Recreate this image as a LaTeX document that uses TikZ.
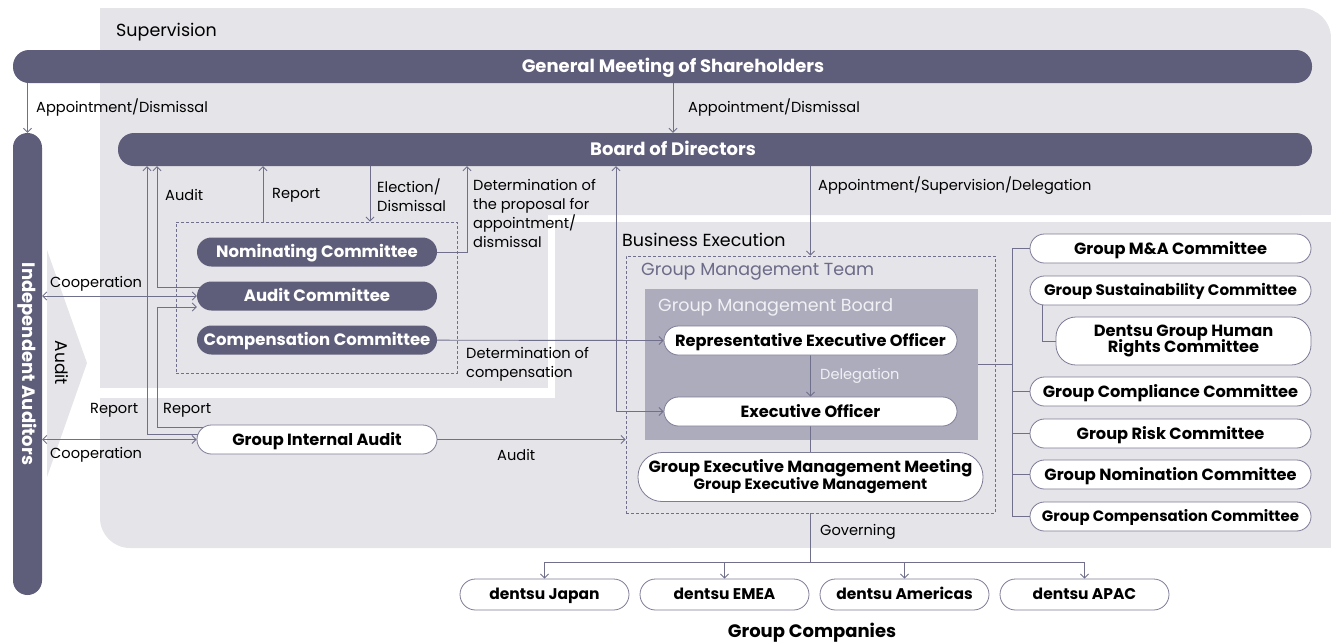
\documentclass[tikz,border=0pt]{standalone}
\usepackage{fontspec}
\setmainfont{Poppins}
\usetikzlibrary{arrows.meta}
\pgfdeclarelayer{panels}
\pgfdeclarelayer{wires}
\pgfsetlayers{panels,wires,main}
\definecolor{barc}{RGB}{95,94,122}
\definecolor{panelc}{RGB}{229,228,233}
\definecolor{wirec}{RGB}{112,111,140}
\definecolor{gmbc}{RGB}{173,172,188}
\definecolor{gmtc}{RGB}{107,106,136}
\definecolor{boxc}{RGB}{125,124,150}
\definecolor{paletxt}{RGB}{240,240,245}
\tikzset{
 lbl/.style={font=\fontsize{14.6}{19}\selectfont, anchor=west, inner sep=0pt, align=left},
 ttl/.style={font=\fontsize{17.5}{20}\selectfont, anchor=west, inner sep=0pt},
 onel/.style={text height=#1, text depth=0pt},
 darkbar/.style={fill=barc, text=white, font=\bfseries\fontsize{18}{20}\selectfont, inner sep=0pt, rounded corners=16pt, minimum height=33pt, onel=12.6pt},
 dcomm/.style={fill=barc, text=white, font=\bfseries\fontsize{16.5}{19}\selectfont, inner sep=0pt, rounded corners=14.5pt, minimum height=29pt, minimum width=240pt, onel=11.6pt},
 wbox/.style={draw=boxc, line width=0.8pt, fill=white, text=black, font=\bfseries\fontsize{16.2}{18}\selectfont, inner sep=0pt, rounded corners=14.5pt, minimum height=29pt},
 dashbox/.style={draw=wirec, dash pattern=on 3pt off 2pt, line width=0.8pt, inner sep=0pt},
 wire/.style={draw=wirec, line width=0.9pt},
 arr/.style={wire, -{Straight Barb[length=4pt,width=8pt]}},
 arrr/.style={wire, {Straight Barb[length=4pt,width=8pt]}-{Straight Barb[length=4pt,width=8pt]}},
}
\begin{document}
\begin{tikzpicture}[x=1pt,y=-1pt]
\useasboundingbox (0,0) rectangle (1331,641);
\begin{pgfonlayer}{panels}
 % supervision panel
 \fill[panelc, rounded corners=30pt] (100,8) rectangle (1331,215);
 \fill[panelc] (100,8) rectangle (1280,215);
 \fill[panelc] (100,60) rectangle (1331,215);
 \fill[panelc] (100,8) rectangle (548,388);
 % business execution panel
 \fill[panelc, rounded corners=30pt] (100,398) rectangle (700,548);
 \fill[panelc] (100,398) rectangle (700,500);
 \fill[panelc] (150,398) rectangle (700,548);
 \fill[panelc] (555,222) rectangle (1331,548);
 % audit chevron
 \fill[panelc] (47,250) -- (87,363) -- (47,477) -- cycle;
 \node[fill=gmbc, minimum width=333pt, minimum height=151pt, inner sep=0pt] (gmb) at (811.5,364.5) {};
 \node[dashbox, minimum width=281pt, minimum height=151pt] (cbox) at (316.5,297.5) {};
 \node[dashbox, minimum width=369pt, minimum height=257pt] (gmt) at (810.5,384.5) {};
\end{pgfonlayer}

% main bars
\node[darkbar, minimum width=1299pt] (gm) at (662.5,66.5) {\hspace*{21pt}General Meeting of Shareholders};
\node[darkbar, minimum width=1194pt] (bod) at (715,149.5) {Board of Directors\hspace*{84pt}};
\node[fill=barc, rounded corners=14.5pt, minimum width=29pt, minimum height=462pt, inner sep=0pt, text=white, font=\bfseries\fontsize{18}{20}\selectfont] (ia) at (27.5,364) {\rotatebox{-90}{Independent Auditors}};

% committees
\node[dcomm] (nom) at (317,252) {Nominating Committee};
\node[dcomm] (aud) at (317,296) {Audit Committee};
\node[dcomm] (comp) at (317,340) {Compensation Committee};
\node[wbox, onel=11.3pt, minimum width=240pt] (gia) at (317,439.5) {Group Internal Audit};

% execution
\node[wbox, onel=11.3pt, minimum width=293pt] (reo) at (810.5,340.5) {Representative Executive Officer};
\node[wbox, onel=11.3pt, minimum width=293pt] (eo) at (810.5,411.5) {Executive Officer};
\node[wbox, minimum width=345pt, minimum height=49pt, rounded corners=24pt, align=center] (gemm) at (810.5,477) {Group Executive Management Meeting\\[-1pt]{\fontsize{15}{16}\selectfont Group Executive Management}};

% right committees
\node[wbox, onel=11.3pt, minimum width=281pt] (ma) at (1170.5,248.5) {Group M\&A Committee};
\node[wbox, onel=10.6pt, minimum width=281pt, font=\bfseries\fontsize{15.2}{18}\selectfont] (sus) at (1170.5,290.5) {Group Sustainability Committee};
\node[wbox, minimum width=255pt, minimum height=48pt, rounded corners=20pt, align=center] (hr) at (1183.5,341) {Dentsu Group Human\\[-2pt]Rights Committee};
\node[wbox, onel=11.3pt, minimum width=281pt] (compl) at (1170.5,391.5) {Group Compliance Committee};
\node[wbox, onel=11.3pt, minimum width=281pt] (risk) at (1170.5,433.5) {Group Risk Committee};
\node[wbox, onel=11.3pt, minimum width=281pt] (gnom) at (1170.5,474.5) {Group Nomination Committee};
\node[wbox, onel=10.5pt, minimum width=281pt, font=\bfseries\fontsize{15}{18}\selectfont] (gcomp) at (1170.5,516.5) {Group Compensation Committee};

% companies
\tikzset{co/.style={wbox, onel=10.9pt, minimum width=169pt, minimum height=31pt, rounded corners=15.5pt, font=\bfseries\fontsize{15.5}{18}\selectfont}}
\node[co] (japan) at (544.5,594.5) {dentsu Japan};
\node[co] (emea) at (724.5,594.5) {dentsu EMEA};
\node[co] (amer) at (904.5,594.5) {dentsu Americas};
\node[co] (apac) at (1084.5,594.5) {dentsu APAC};
\node[font=\bfseries\fontsize{18}{20}\selectfont, inner sep=0pt, onel=12.6pt] (gc) at (812,631) {Group Companies};

\coordinate (gov) at (810.5,562);
\coordinate (bustop) at (1012,248.5);
\coordinate (busbot) at (1012,516.5);

\begin{pgfonlayer}{wires}
 \draw[arr] (gm.south -| ia.north) -- (ia.north);
 \draw[arr] ([xshift=10.5pt]gm.south) -- ([xshift=-42pt]bod.north);
 \draw[arr] ([yshift=9pt]aud.center) -| ([xshift=-558pt]bod.south);
 \draw[arr] ([yshift=5pt]gia.center) -| ([xshift=-568pt]bod.south);
 \draw[arr] ([yshift=12pt]gia.center) -| ([xshift=-160pt,yshift=-11pt]aud.center) -- ([yshift=-11pt]aud.west);
 \draw[arrr] (ia.east |- aud.west) -- (aud.west);
 \draw[arrr] (ia.east |- gia.west) -- (gia.west);
 \draw[arr] ([xshift=-53.5pt]cbox.north) -- ([xshift=-452pt]bod.south);
 \draw[arr] ([xshift=-345pt]bod.south) -- ([xshift=53.5pt]cbox.north);
 \draw[arr] (nom.center) -| ([xshift=-248pt]bod.south);
 \draw[arr] (comp.center) -- (reo.west);
 \draw[arrr] ([xshift=-99pt]bod.south) |- (eo.west);
 \draw[arr] (gia.center) -- (gia.center -| gmt.west);
 \draw[arr] (bod.south -| gmt.north) -- (gmt.north);
 \draw[arr] (reo.south) -- (eo.north);
 \draw[wire] (eo.south) -- (gemm.north);
 \draw[wire] (gmt.south) -- (gov);
 \draw[arr] (gov) -| (japan.north);
 \draw[arr] (gov) -| (emea.north);
 \draw[arr] (gov) -| (amer.north);
 \draw[arr] (gov) -| (apac.north);
 \draw[wire] (bustop) -- (busbot);
 \draw[wire] (gmb.east) -- (gmb.east -| bustop);
 \draw[wire] (bustop) -- (ma.west);
 \draw[wire] (bustop |- compl.west) -- (compl.west);
 \draw[wire] (bustop |- risk.west) -- (risk.west);
 \draw[wire] (bustop |- gnom.west) -- (gnom.west);
 \draw[wire] (busbot) -- (gcomp.west);
 \draw[wire] ([xshift=-128.5pt]sus.center) |- (hr.west);
\end{pgfonlayer}

% labels
\node[ttl] (tsup) at (116,32) {Supervision};
\node[ttl] (tbus) at (622,240) {Business Execution};
\node[ttl, text=gmtc] (tgmt) at (641,272) {Group Management Team};
\node[ttl, text=paletxt] (tgmb) at (658,307) {Group Management Board};
\node[lbl] (l1) at (36,108) {Appointment/Dismissal};
\node[lbl] (l2) at (688,108) {Appointment/Dismissal};
\node[lbl] (l3) at (165,195) {Audit};
\node[lbl] (l4) at (272,195) {Report};
\node[lbl] (l5) at (377,195) {Election/\\Dismissal};
\node[lbl] (l6) at (473,213.5) {Determination of\\the proposal for\\appointment/\\dismissal};
\node[lbl] (l7) at (466,364.5) {Determination of\\compensation};
\node[lbl] (l8) at (818,186) {Appointment/Supervision/Delegation};
\node[lbl, text=paletxt] (l9) at (820,376) {Delegation};
\node[lbl] (l10) at (50,284) {Cooperation};
\node[lbl] (l11) at (50,455) {Cooperation};
\node[lbl] (l12) at (90,410) {Report};
\node[lbl] (l13) at (163,410) {Report};
\node[lbl] (l14) at (497,455) {Audit};
\node[lbl] (l15) at (820,532) {Governing};
\node[lbl, rotate=-90, anchor=center, font=\fontsize{17}{19}\selectfont] (l16) at (62,363) {Audit};
\end{tikzpicture}
\end{document}
